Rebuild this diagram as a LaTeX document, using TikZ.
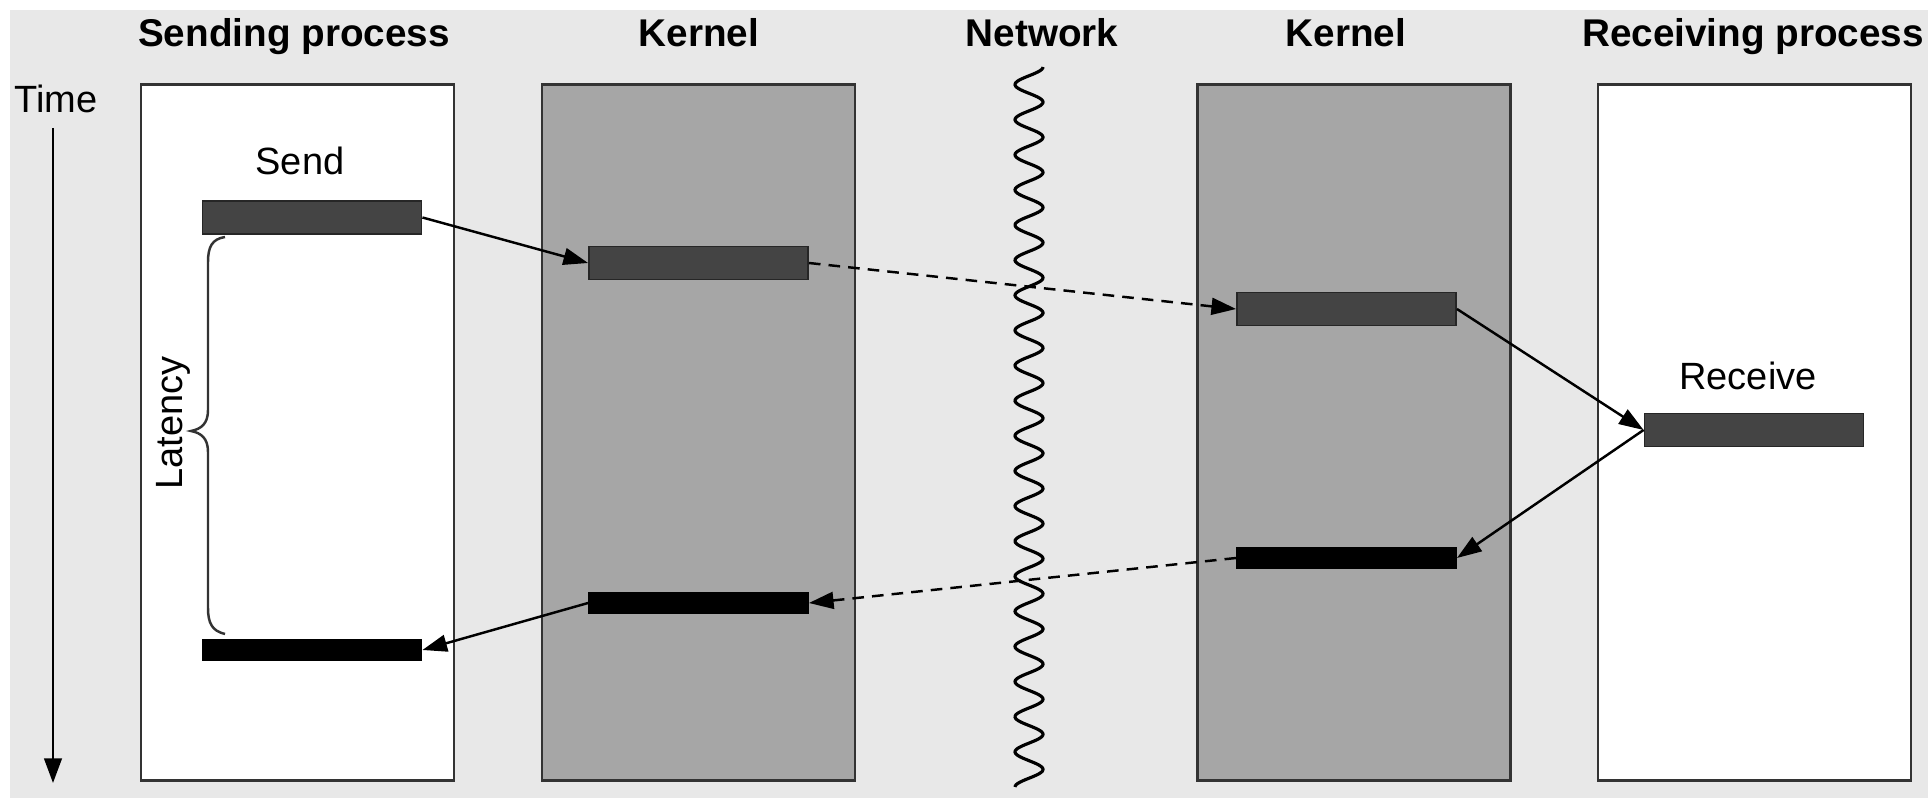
\documentclass[tikz,border=0pt]{standalone}
\usepackage{fontspec}
\setmainfont{Liberation Sans}
\usetikzlibrary{arrows.meta}
\definecolor{panelbg}{HTML}{E8E8E8}
\definecolor{kernelgray}{HTML}{A6A6A6}
\definecolor{bardark}{HTML}{444444}
\definecolor{edgegray}{HTML}{333333}
\begin{document}
\begin{tikzpicture}[x=0.01cm,y=-0.01cm,
  column/.style={draw=edgegray,line width=0.75pt,minimum width=3.13cm,minimum height=6.95cm,inner sep=0pt},
  procbox/.style={column,fill=white},
  kernbox/.style={column,fill=kernelgray},
  busy/.style={draw=black!85,line width=0.5pt,fill=bardark,minimum width=2.19cm,minimum height=0.33cm,inner sep=0pt},
  done/.style={draw=black,line width=0.5pt,fill=black,minimum width=2.19cm,minimum height=0.2cm,inner sep=0pt},
  heading/.style={font=\fontsize{11}{13}\selectfont\bfseries,anchor=base,inner sep=0pt},
  label/.style={font=\fontsize{10.8}{13}\selectfont,inner sep=0pt},
  msg/.style={line width=0.7pt,-{Triangle[length=7pt,width=4.8pt]}},
  wire/.style={msg,dash pattern=on 3.3pt off 2.3pt}
]
% canvas
\useasboundingbox (0,0) rectangle (1928,798);
\fill[panelbg] (10,10) rectangle (1928,798);

% column headings
\node[heading] (hsend) at (294,47) {Sending process};
\node[heading] (hk1)   at (699,47) {Kernel};
\node[heading] (hnet)  at (1042,47) {Network};
\node[heading] (hk2)   at (1346,47) {Kernel};
\node[heading] (hrecv) at (1753,47) {Receiving process};

% columns
\node[procbox] (sender)   at (297.5,432.5) {};
\node[kernbox] (kernelA)  at (698.5,432.5) {};
\node[kernbox] (kernelB)  at (1354,432.5) {};
\node[procbox] (receiver) at (1754.5,432.5) {};

% network boundary
\draw[black,line width=0.9pt] plot[domain=0:720,samples=600,smooth]
  ({1029+14*cos((\x/35.122)*360)},{67+\x});

% time axis
\node[label,anchor=base] (time) at (56,113) {Time};
\coordinate (tstart) at (53,128);
\coordinate (tend) at (53,783);
\draw[line width=0.7pt,-{Triangle[length=7pt,width=5pt]}] (tstart) -- (tend);

% activity bars
\node[label,anchor=base] (sendlbl) at (300,175) {Send};
\node[busy] (send)   at (312,217.5) {};
\node[busy] (kAout)  at (698.5,263) {};
\node[busy] (kBin)   at (1346.5,309) {};
\node[label,anchor=base] (recvlbl) at (1748,390) {Receive};
\node[busy] (recv)   at (1754,430) {};
\node[done] (kBret)  at (1346.5,558) {};
\node[done] (kAret)  at (698.5,603) {};
\node[done] (sret)   at (312,650) {};

% messages
\draw[msg]  (send.east)  -- (kAout.west);
\draw[wire] (kAout.east) -- (kBin.west);
\draw[msg]  (kBin.east)  -- (recv.west);
\draw[msg]  (recv.west)  -- (kBret.east);
\draw[wire] (kBret.west) -- (kAret.east);
\draw[msg]  (kAret.west) -- (sret.east);

% latency brace
\draw[edgegray,line width=0.7pt]
  (225,237) .. controls (212,239) and (208,247) .. (208,262)
  -- (208,410) .. controls (208,424) and (201,429) .. (191,431)
  .. controls (201,433) and (208,438) .. (208,452)
  -- (208,608) .. controls (208,623) and (212,631) .. (225,634);
\node[label,rotate=90] (latency) at (173,423) {Latency};
\end{tikzpicture}
\end{document}
